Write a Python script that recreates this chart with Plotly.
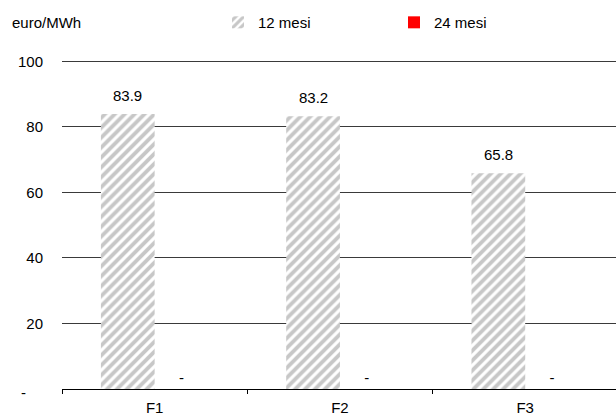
import plotly.graph_objects as go

# Price bands and values (euro/MWh)
bands = ["F1", "F2", "F3"]
values_12m = [83.9, 83.2, 65.8]
values_24m = [0, 0, 0]
labels_12m = ["83.9", "83.2", "65.8"]
labels_24m = ["-", "-", "-"]

y_ticks = [0, 20, 40, 60, 80, 100]
y_tick_text = ["", "20", "40", "60", "80", "100"]
zero_label = "-"

FONT = "Arial, Liberation Sans, sans-serif"
BARGAP = 0.42
# each of the two grouped bars takes half of the non-gap width
half_bar = (1 - BARGAP) / 4

fig = go.Figure()

fig.add_trace(go.Bar(
    name="12 mesi",
    x=bands,
    y=values_12m,
    marker=dict(
        color="#ffffff",
        line=dict(width=0),
        pattern=dict(shape="/", fgcolor="#8f8f8f", bgcolor="#ffffff",
                     size=7, solidity=0.55),
    ),
))

fig.add_trace(go.Bar(
    name="24 mesi",
    x=bands,
    y=values_24m,
    text=labels_24m,
    textposition="outside",
    cliponaxis=False,
    textfont=dict(family=FONT, size=15, color="#000000"),
    marker=dict(color="#ff0000", line=dict(width=0)),
))

# value labels above the 12-month bars
value_labels = [
    dict(
        text=lab,
        x=i - half_bar, y=v,
        xref="x", yref="y",
        yanchor="bottom",
        yshift=8,
        showarrow=False,
        font=dict(family=FONT, size=15, color="#000000"),
    )
    for i, (v, lab) in enumerate(zip(values_12m, labels_12m))
]

# the zero tick is written as a dash, set a little apart from the axis
zero_tick = dict(
    text=zero_label,
    xref="paper", yref="y",
    x=-0.0686, y=y_ticks[0],
    xanchor="center", yanchor="middle",
    yshift=-3,
    showarrow=False,
    font=dict(family=FONT, size=15, color="#000000"),
)

fig.update_layout(
    width=616,
    height=416,
    margin=dict(l=62, r=0, t=58, b=27, autoexpand=False),
    paper_bgcolor="#ffffff",
    plot_bgcolor="#ffffff",
    font=dict(family=FONT, size=15, color="#000000"),
    barmode="group",
    bargap=BARGAP,
    bargroupgap=0,
    showlegend=True,
    legend=dict(
        orientation="h",
        x=0.2816,
        xanchor="left",
        y=1.107,
        yanchor="middle",
        entrywidth=131,
        entrywidthmode="pixels",
        font=dict(family=FONT, size=15, color="#000000"),
        bgcolor="rgba(0,0,0,0)",
    ),
    annotations=[
        dict(
            text="euro/MWh",
            xref="paper", yref="paper",
            x=-0.0939, y=1.107,
            xanchor="left", yanchor="middle",
            showarrow=False,
            font=dict(family=FONT, size=15, color="#000000"),
        ),
        zero_tick,
    ] + value_labels,
)

fig.update_xaxes(
    range=[-0.5, 2.49],
    showline=True,
    linecolor="#000000",
    linewidth=1,
    ticks="outside",
    tickson="boundaries",
    ticklen=4,
    tickcolor="#000000",
    showgrid=False,
    ticklabelstandoff=5,
    tickfont=dict(family=FONT, size=15, color="#000000"),
)

fig.update_yaxes(
    range=[0, 101],
    tickvals=y_ticks,
    ticktext=y_tick_text,
    showgrid=True,
    gridcolor="#3a3a3a",
    gridwidth=1,
    zeroline=False,
    showline=False,
    ticks="",
    ticklabelstandoff=18,
    tickfont=dict(family=FONT, size=15, color="#000000"),
)

fig.write_html("out.html")
